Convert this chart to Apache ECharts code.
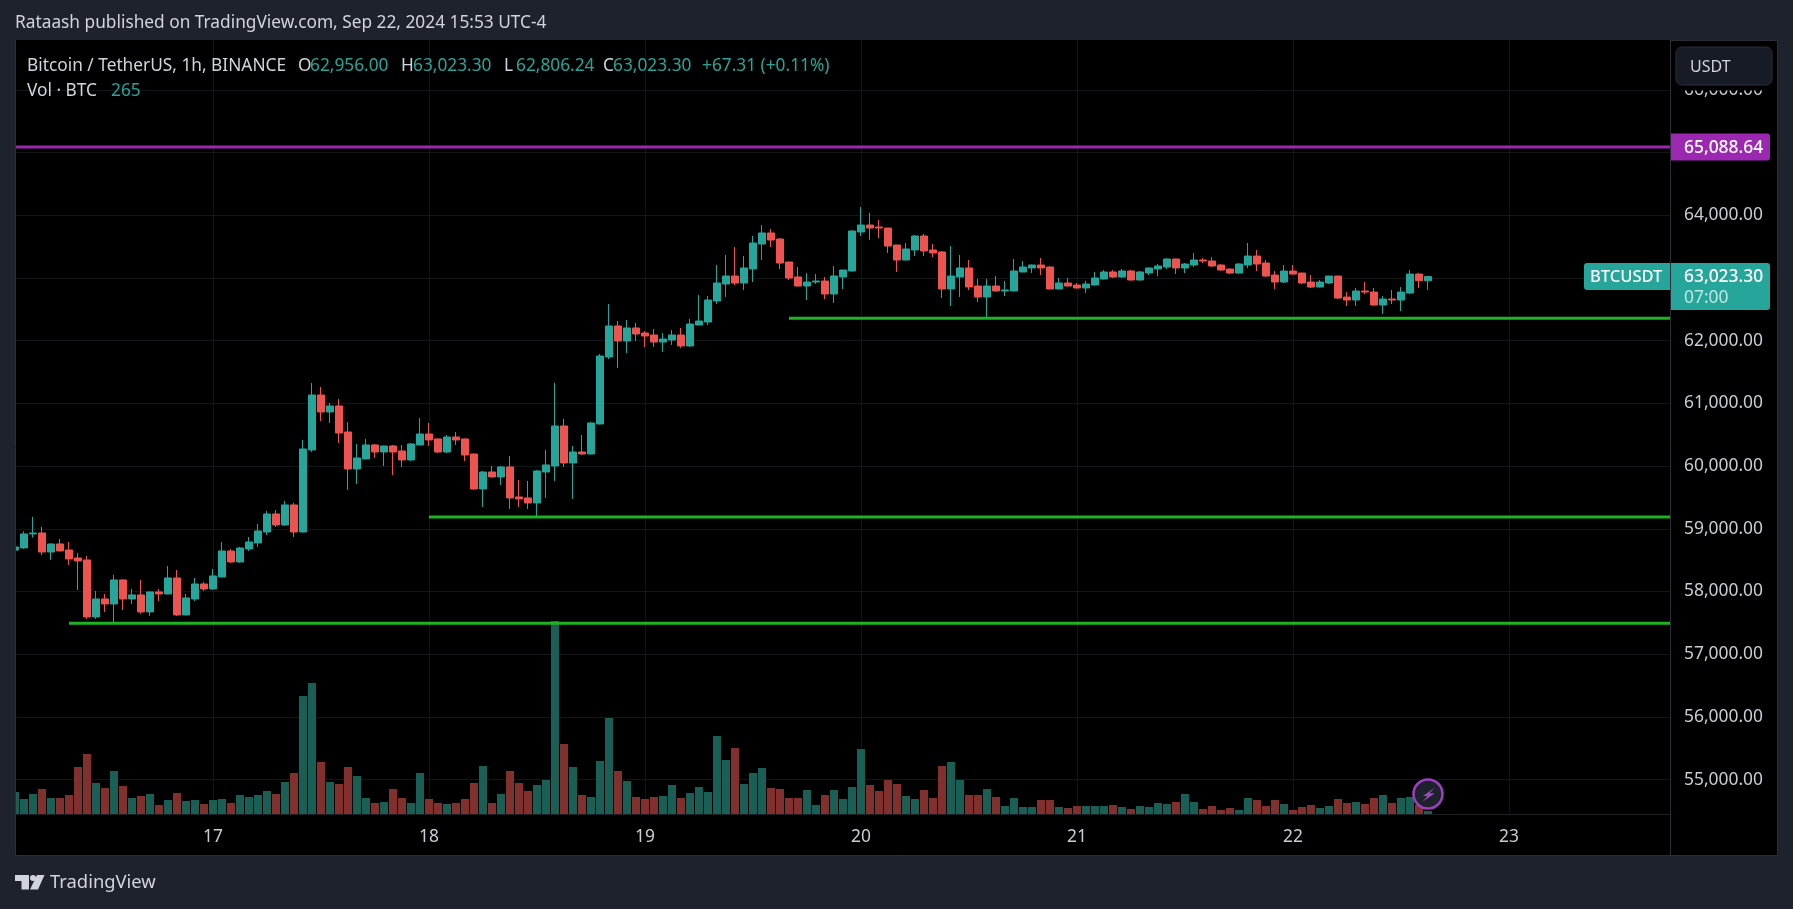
<!DOCTYPE html>
<html><head><meta charset="utf-8">
<style>html,body{margin:0;padding:0;background:#1e222d;overflow:hidden}#c{width:1793px;height:909px}</style>
<script src="https://cdn.jsdelivr.net/npm/echarts@6/dist/echarts.min.js"></script>
</head><body><div id="c"></div>
<script>
const chartTitle = 'Rataash published on TradingView.com, Sep 22, 2024 15:53 UTC-4';
// hourly candles in order: [open, close, low, high]
const candles = [
[58660,58710,58635,58875],[58695,58918,58680,58960],[58918,58933,58860,59190],[58933,58630,58583,59030],[58630,58758,58503,58765],
[58758,58646,58640,58838],[58662,58519,58423,58790],[58535,58487,58024,58615],[58503,57594,57562,58567],[57594,57881,57562,58008],
[57881,57801,57674,57961],[57801,58184,57493,58264],[58184,57881,57705,58195],[57881,57945,57801,58040],[57945,57674,57642,58184],
[57674,57993,57610,57995],[57993,57961,57849,58040],[57961,58216,57955,58407],[58216,57626,57610,58343],[57626,57897,57620,57961],
[57881,58120,57849,58216],[58120,58040,58008,58152],[58040,58248,58024,58359],[58232,58646,58225,58790],[58646,58471,58455,58678],
[58471,58694,58455,58710],[58678,58790,58646,58870],[58774,58965,58710,59077],[58949,59237,58902,59284],[59237,59061,59029,59300],
[59061,59380,59045,59444],[59380,58949,58870,59412],[58949,60273,58940,60417],[60257,61134,60225,61326],[61134,60863,60720,61262],
[60863,60959,60688,61007],[60959,60528,60369,61070],[60544,59954,59619,60704],[59954,60130,59715,60353],[60114,60337,60105,60433],
[60337,60225,60130,60353],[60225,60321,60002,60325],[60321,60225,59858,60337],[60241,60098,59986,60337],[60098,60353,60082,60369],
[60337,60512,60330,60767],[60512,60417,60321,60688],[60433,60225,60209,60440],[60225,60464,60209,60496],[60464,60417,60337,60544],
[60433,60177,60082,60440],[60193,59635,59625,60200],[59635,59906,59348,59922],[59906,59827,59820,60002],[59827,59986,59699,60000],
[59986,59492,59316,60161],[59508,59476,59348,59779],[59492,59412,59316,59763],[59412,59922,59205,59938],[59906,60018,59492,60257],
[60002,60640,59763,61326],[60640,60050,59986,60752],[60050,60225,59476,60321],[60225,60193,60177,60496],[60193,60688,60185,60704],
[60672,61756,60665,61788],[61740,62235,61708,62585],[62235,61995,61565,62314],[61995,62203,61804,62330],[62203,62107,61995,62282],
[62123,62075,61900,62155],[62091,61979,61900,62187],[61979,62027,61820,62123],[62011,62091,61932,62171],[62091,61916,61884,62203],
[61916,62266,61900,62346],[62250,62314,62245,62729],[62298,62649,62250,62713],[62633,62920,62585,63207],[62904,63032,62697,63367],
[63032,62920,62888,63494],[62920,63160,62809,63351],[63144,63558,62936,63670],[63542,63718,63287,63845],[63718,63606,63494,63782],
[63622,63239,63144,63638],[63255,63000,62968,63260],[63016,62872,62865,63175],[62872,62936,62649,63080],[62936,62952,62904,63064],
[62952,62745,62665,63016],[62745,63032,62601,63191],[63016,63128,62825,63128],[63112,63750,63100,63755],[63734,63845,63670,64132],
[63845,63797,63606,64037],[63813,63797,63638,63925],[63797,63510,63399,63800],[63526,63287,63096,63530],[63287,63463,63280,63558],
[63447,63670,63351,63686],[63670,63431,63351,63702],[63447,63399,63335,63542],[63415,62825,62681,63431],[62825,63032,62553,63510],
[63016,63160,62697,63367],[63160,62857,62809,63287],[62872,62697,62617,62984],[62697,62872,62378,62984],[62872,62793,62785,63032],
[62793,62809,62713,62952],[62793,63112,62785,63303],[63096,63175,63090,63271],[63160,63207,63080,63215],[63207,63160,63048,63319],
[63175,62825,62820,63191],[62825,62920,62820,63000],[62920,62872,62865,63000],[62888,62841,62830,62920],[62841,62904,62761,62952],
[62888,63000,62880,63096],[62984,63096,62975,63128],[63096,63016,63000,63128],[63016,63112,63005,63144],[63112,62968,62960,63128],
[62968,63096,62960,63112],[63080,63160,63048,63165],[63144,63191,63032,63223],[63175,63303,63144,63310],[63303,63160,63064,63310],
[63159,63223,63079,63240],[63207,63287,63175,63398],[63287,63271,63239,63318],[63271,63191,63180,63334],[63207,63127,63120,63223],
[63143,63079,63063,63150],[63079,63223,63063,63239],[63207,63350,63159,63558],[63350,63223,63111,63446],[63239,63031,63015,63287],
[63047,62936,62824,63111],[62936,63111,62920,63207],[63111,63063,63055,63207],[63079,62920,62904,63085],[62936,62856,62840,63047],
[62856,62936,62850,62968],[62920,63031,62904,63035],[63031,62680,62665,63035],[62696,62649,62553,62776],[62649,62792,62553,62840],
[62792,62776,62744,62936],[62776,62569,62560,62840],[62569,62665,62425,62712],[62665,62649,62585,62808],[62649,62776,62473,62856],
[62760,63063,62750,63127],[63063,62956,62840,63079],[62956,63023.30,62806.24,63023.30]
];
// hourly volume in BTC
const volumes = [
1980,1350,1800,2250,1440,1440,1710,4230,5400,2790,
2340,3870,2520,1440,1620,1800,810,1260,1890,1170,
1260,900,1260,1350,990,1710,1530,1710,2070,1800,
2880,3690,10620,11790,4680,2880,2700,4230,3420,1440,
990,1080,2250,1440,990,3690,1350,990,900,990,
1350,2790,4320,990,1800,3870,2790,2070,2610,3060,
17370,6300,4230,1710,1530,4770,8640,3870,2970,1530,
1350,1530,1620,2610,1440,1890,2430,1980,7020,4860,
5940,2700,3690,4140,2340,2250,1440,1440,2160,810,
1710,2160,1350,2430,5850,2610,2070,3060,2700,1620,
1350,2160,1440,4320,4680,3060,1710,1710,2250,1530,
720,1440,630,630,1260,1260,630,540,720,720,
720,720,810,630,450,720,630,990,900,1080,
1800,1080,450,720,360,540,360,1440,1260,720,
1260,900,360,630,810,540,720,1350,990,1080,
900,1440,1710,990,1440,1530,810,265
];
const priceTicks = [55000,56000,57000,58000,59000,60000,61000,62000,63000,64000,65000,66000];
const dayLabels = {22:'17',46:'18',70:'19',94:'20',118:'21',142:'22',166:'23'};
const supportLevels = [[57493,6],[59189,46],[62357,86]];
const resistanceLevel = 65088.64;
const lastPrice = 63023.30;
const lastPriceText = '63,023.30', countdownText = '07:00', resistanceText = '65,088.64';
const legendRows = [
  ['Bitcoin / TetherUS, 1h, BINANCE',27,66,0],['O',298,66,0],['62,956.00',310,66,1],['H',401,66,0],['63,023.30',413,66,1],
  ['L',504,66,0],['62,806.24',516,66,1],['C',603,66,0],['63,023.30',613,66,1],['+67.31 (+0.11%)',702,66,1],
  ['Vol · BTC',27,91,0],['265',111,91,1]
];
const X_MIN=0, X_MAX=183.89, Y_MIN=54451, Y_MAX=66796, VOL_MAX=69660;
const UP='#26a69a', DOWN='#ef5350', VUP='#1a5f55', VDOWN='#82302e', GRID='#14151a', EDGE='#2a2e39', TXT='#c9ccd4';
const FONT='"Noto Sans", sans-serif', LBL=17.4;

const chart = echarts.init(document.getElementById('c'), null, {renderer:'canvas', width:1793, height:909});
const candleData = candles.map((c,i)=>[i,c[0],c[1],c[2],c[3]]);
const volData = volumes.map((v,i)=>({value:[i,v], itemStyle:{color:candles[i][1]>=candles[i][0]?VUP:VDOWN}}));
const levelSeries = supportLevels.map(l=>({type:'line',xAxisIndex:0,yAxisIndex:0,showSymbol:false,silent:true,z:5,
  lineStyle:{color:'#1fb324',width:3},data:[[l[1],l[0]],[X_MAX,l[0]]]}));
levelSeries.push({type:'line',xAxisIndex:0,yAxisIndex:0,showSymbol:false,silent:true,z:5,
  lineStyle:{color:'#9c27b0',width:3},data:[[X_MIN,resistanceLevel],[X_MAX,resistanceLevel]]});

chart.setOption({
  animation:false, backgroundColor:'#1e222d',
  title:{text:chartTitle,left:15,top:15,padding:0,textStyle:{color:'#d1d4dc',fontFamily:FONT,fontSize:17.3,fontWeight:'normal'}},
  grid:{left:15,right:123,top:40,bottom:95,containLabel:false,show:true,backgroundColor:'#000',borderWidth:0},
  xAxis:{type:'value',min:X_MIN,max:X_MAX,
    axisLine:{show:true,lineStyle:{color:'#1c1e24',width:1}},
    axisTick:{show:false,customValues:Object.keys(dayLabels).map(Number)},
    splitLine:{show:true,lineStyle:{color:GRID,width:1}},
    axisLabel:{customValues:Object.keys(dayLabels).map(Number),formatter:v=>dayLabels[v]||'',color:TXT,fontFamily:FONT,fontSize:LBL,margin:15}},
  yAxis:[{type:'value',position:'right',min:Y_MIN,max:Y_MAX,
    axisLine:{show:false},axisTick:{show:false,customValues:priceTicks},
    splitLine:{show:true,lineStyle:{color:GRID,width:1}},
    axisLabel:{customValues:priceTicks,formatter:v=>v.toLocaleString('en-US',{minimumFractionDigits:2}),color:TXT,fontFamily:FONT,fontSize:LBL,margin:14,align:'left',padding:[2,0,0,0]}},
    {type:'value',min:0,max:VOL_MAX,show:false,splitLine:{show:false}}],
  series:[
    {type:'bar',xAxisIndex:0,yAxisIndex:1,data:volData,barWidth:8,z:2,silent:true,clip:true},
    {type:'candlestick',xAxisIndex:0,yAxisIndex:0,barWidth:7,z:3,silent:true,clip:true,data:candleData,
     encode:{x:0,y:[1,2,3,4]},
     itemStyle:{color:UP,color0:DOWN,borderColor:UP,borderColor0:DOWN,borderColorDoji:UP,borderWidth:1}}
  ].concat(levelSeries)
});

const py = v => chart.convertToPixel({yAxisIndex:0}, v);
const txt = (text,x,y,fill,size,weight,align,z)=>({type:'text',z:z||100,silent:true,style:{text,x,y,fill,align:align||'left',verticalAlign:'middle',font:`${weight||'normal'} ${size||LBL}px ${FONT}`}});
const yR = py(resistanceLevel), yL = py(lastPrice);
const iconX = chart.convertToPixel({xAxisIndex:0}, candles.length-1), iconY = 794;
const bolt = [[6.7,-6.3],[-5,2],[-0.5,2],[-5.7,8],[6.7,-0.7],[1.5,-0.7]].map(p=>[iconX+p[0],iconY+p[1]]);
const elems = [
  {type:'rect',z:-10,silent:true,shape:{x:15.5,y:40.5,width:1762,height:815},style:{fill:'#000',stroke:EDGE,lineWidth:1}},
  {type:'rect',z:60,silent:true,shape:{x:0,y:40,width:15,height:816},style:{fill:'#1e222d'}},
  {type:'line',z:61,silent:true,shape:{x1:15.5,y1:40,x2:15.5,y2:855},style:{stroke:EDGE,lineWidth:1}},
  {type:'line',z:50,silent:true,shape:{x1:1670.5,y1:40,x2:1670.5,y2:855},style:{stroke:EDGE,lineWidth:1}},
  {type:'rect',z:90,silent:true,shape:{x:1671,y:84,width:106,height:6.5},style:{fill:'#000'}},
  {type:'rect',z:100,silent:true,shape:{x:1676,y:47,width:96,height:38,r:6},style:{fill:'#171b25',stroke:EDGE,lineWidth:1}},
  txt('USDT',1690,67,'#d1d4dc',16),
  {type:'rect',z:100,silent:true,shape:{x:1671,y:yR-13.5,width:99,height:27,r:[0,3,3,0]},style:{fill:'#9c27b0'}},
  txt(resistanceText,1684,yR+1,'#fff',LBL,'500'),
  {type:'rect',z:100,silent:true,shape:{x:1584,y:yL-13.5,width:86,height:27,r:[3,0,0,3]},style:{fill:UP}},
  txt('BTCUSDT',1590,yL+1,'#fff',16.5,'500'),
  {type:'rect',z:100,silent:true,shape:{x:1671,y:yL-13.5,width:99,height:47,r:[0,3,3,0]},style:{fill:UP}},
  txt(lastPriceText,1684,yL+1,'#fff',LBL,'500'),
  txt(countdownText,1684,yL+22,'#bfe6e2',LBL),
  {type:'circle',z:100,silent:true,shape:{cx:iconX,cy:iconY,r:14.5},style:{fill:'#1e222d',stroke:'#9c3fc0',lineWidth:2.5}},
  {type:'polygon',z:101,silent:true,shape:{points:bolt},style:{fill:'#a148c8'}},
  {type:'polygon',z:100,silent:true,shape:{points:[[15,875],[29,875],[29,889.5],[21.5,889.5],[21.5,881],[15,881]]},style:{fill:'#d1d4dc'}},
  {type:'circle',z:100,silent:true,shape:{cx:33,cy:878,r:3},style:{fill:'#d1d4dc'}},
  {type:'polygon',z:100,silent:true,shape:{points:[[37,875],[44.5,875],[38,889.5],[30,889.5]]},style:{fill:'#d1d4dc'}},
  txt('TradingView',50,883,'#d1d4dc',18.4)
];
legendRows.forEach(r=>elems.push(txt(r[0],r[1],r[2],r[3]?UP:'#d1d4dc',17.3)));
chart.setOption({graphic:{elements:elems}});
</script></body></html>
